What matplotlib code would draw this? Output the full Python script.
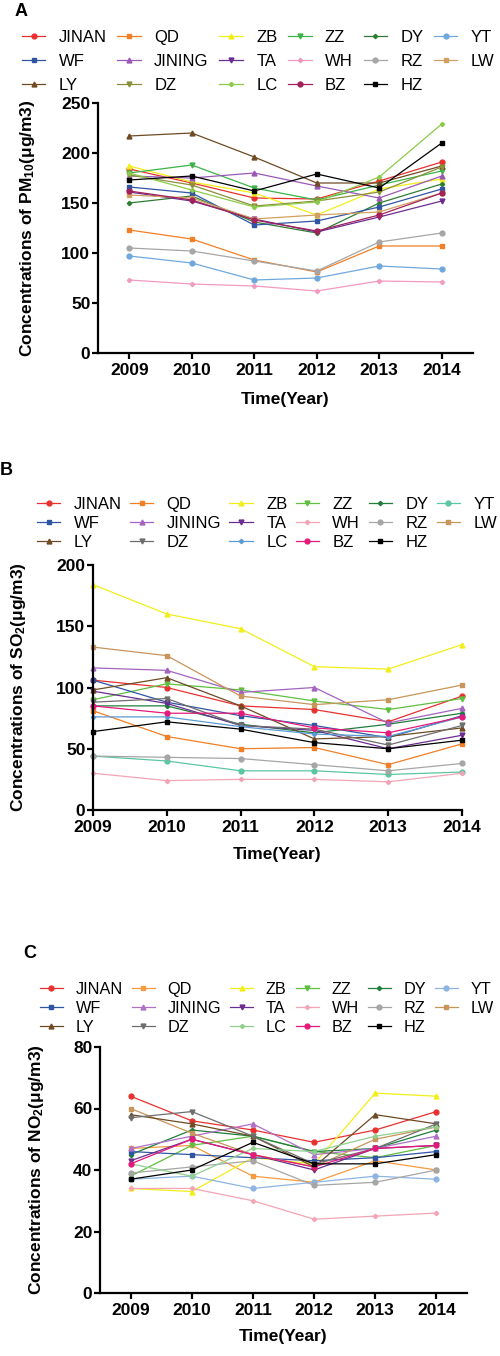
import matplotlib
matplotlib.use("Agg")
import matplotlib.pyplot as plt

plt.rcParams['font.family'] = ['Liberation Sans', 'DejaVu Sans']
plt.rcParams['mathtext.fontset'] = 'custom'
plt.rcParams['mathtext.bf'] = 'Liberation Sans:bold'
plt.rcParams['mathtext.rm'] = 'Liberation Sans:bold'
plt.rcParams['mathtext.default'] = 'bf'

# --- data ---
years = [2009, 2010, 2011, 2012, 2013, 2014]
stations = ["JINAN", "QD", "ZB", "ZZ", "DY", "YT", "WF", "JINING", "TA",
            "WH", "RZ", "LW", "LY", "DZ", "LC", "BZ", "HZ"]

# PM10
pm10_jinan = [184, 170, 155, 154, 172, 191]
pm10_qd = [123, 114, 93, 81, 107, 107]
pm10_zb = [187, 171, 160, 138, 164, 174]
pm10_zz = [180, 188, 165, 153, 168, 182]
pm10_dy = [150, 157, 131, 120, 150, 169]
pm10_yt = [97, 90, 73, 75, 87, 84]
pm10_wf = [166, 160, 128, 132, 146, 164]
pm10_jining = [177, 175, 180, 167, 155, 177]
pm10_ta = [161, 152, 134, 121, 136, 152]
pm10_wh = [73, 69, 67, 62, 72, 71]
pm10_rz = [105, 102, 92, 82, 111, 120]
pm10_lw = [158, 155, 134, 138, 141, 160]
pm10_ly = [217, 220, 196, 170, 170, 187]
pm10_dz = [178, 168, 147, 152, 161, 186]
pm10_lc = [180, 163, 146, 151, 176, 229]
pm10_bz = [162, 153, 133, 122, 138, 160]
pm10_hz = [173, 177, 162, 179, 165, 210]

# SO2
so2_jinan = [106, 100, 85, 82, 72, 93]
so2_qd = [81, 60, 50, 51, 37, 54]
so2_zb = [184, 160, 148, 117, 115, 135]
so2_zz = [90, 103, 98, 89, 82, 91]
so2_dy = [85, 85, 70, 63, 70, 79]
so2_yt = [44, 40, 32, 32, 29, 31]
so2_wf = [106, 88, 77, 69, 59, 77]
so2_jining = [116, 114, 96, 100, 71, 83]
so2_ta = [97, 87, 69, 65, 50, 61]
so2_wh = [30, 24, 25, 25, 23, 30]
so2_rz = [44, 43, 42, 37, 32, 38]
so2_lw = [133, 126, 93, 86, 90, 102]
so2_ly = [98, 108, 85, 58, 60, 67]
so2_dz = [88, 91, 69, 66, 53, 69]
so2_lc = [76, 76, 68, 62, 60, 76]
so2_bz = [85, 79, 79, 67, 63, 76]
so2_hz = [64, 72, 66, 55, 50, 57]

# NO2
no2_jinan = [64, 56, 53, 49, 53, 59]
no2_qd = [47, 48, 38, 36, 43, 40]
no2_zb = [34, 33, 44, 42, 65, 64]
no2_zz = [38, 48, 51, 46, 44, 48]
no2_dy = [45, 53, 51, 46, 47, 53]
no2_yt = [37, 38, 34, 36, 38, 37]
no2_wf = [46, 45, 44, 43, 44, 46]
no2_jining = [47, 51, 55, 45, 47, 51]
no2_ta = [43, 50, 45, 40, 47, 48]
no2_wh = [34, 34, 30, 24, 25, 26]
no2_rz = [39, 41, 43, 35, 36, 40]
no2_lw = [60, 52, 45, 41, 50, 54]
no2_ly = [58, 55, 51, 41, 58, 55]
no2_dz = [57, 59, 51, 42, 47, 55]
no2_lc = [42, 38, 47, 46, 51, 54]
no2_bz = [42, 50, 45, 41, 47, 48]
no2_hz = [37, 40, 49, 42, 42, 45]

pm10 = [pm10_jinan, pm10_qd, pm10_zb, pm10_zz, pm10_dy, pm10_yt, pm10_wf, pm10_jining,
        pm10_ta, pm10_wh, pm10_rz, pm10_lw, pm10_ly, pm10_dz, pm10_lc, pm10_bz, pm10_hz]
so2 = [so2_jinan, so2_qd, so2_zb, so2_zz, so2_dy, so2_yt, so2_wf, so2_jining,
       so2_ta, so2_wh, so2_rz, so2_lw, so2_ly, so2_dz, so2_lc, so2_bz, so2_hz]
no2 = [no2_jinan, no2_qd, no2_zb, no2_zz, no2_dy, no2_yt, no2_wf, no2_jining,
       no2_ta, no2_wh, no2_rz, no2_lw, no2_ly, no2_dz, no2_lc, no2_bz, no2_hz]

# --- styles ---
markers = ['o', 's', '^', 'v', 'D', 'o', 's', '^', 'v', 'D', 'o', 's', '^', 'v', 'D', 'o', 's']
msizes = [3.5, 3.5, 3.5, 3.5, 2.2, 3.5, 3.5, 3.5, 3.5, 2.2, 3.5, 3.5, 3.5, 3.5, 2.2, 3.5, 3.5]
colors_a = ['#E8312F', '#F07F26', '#F2EE1A', '#3CB44A', '#2E7D32', '#6FA8DC', '#2F55A4',
            '#9B59B6', '#6B2D91', '#F29AC0', '#A6A6A6', '#D1A060', '#6E4B23', '#8C8F3A',
            '#8CCB4A', '#A3215A', '#000000']
colors_b = ['#E8312F', '#F07F26', '#F2EE1A', '#5FBF3F', '#1E7E3A', '#5CC6A0', '#2F55A4',
            '#A463C0', '#6B2D91', '#F4A4B4', '#A6A6A6', '#C8955A', '#6E4B23', '#6E6E6E',
            '#5B9BD5', '#E5197A', '#000000']
colors_c = ['#E8312F', '#F59B42', '#F2EE1A', '#5FBF3F', '#1E7E3A', '#8DB4E2', '#2F55A4',
            '#B070C8', '#6B2D91', '#F4A4B4', '#A6A6A6', '#C8955A', '#6E4B23', '#6E6E6E',
            '#8FD08F', '#E5197A', '#000000']

# legend order: row-major display with 6 columns
order = [r * 6 + c for c in range(6) for r in range(3) if r * 6 + c < len(stations)]

fig = plt.figure(figsize=(5, 13.56), dpi=100)
W, H = 500.0, 1356.0


def px_axes(left, top, right, bottom):
    return fig.add_axes([left / W, 1 - bottom / H, (right - left) / W, (bottom - top) / H])


def draw_panel(ax, data, colors, ylim, yticks, xlim, ylabel, ylab_x, xlab_y):
    handles = []
    for i, name in enumerate(stations):
        h, = ax.plot(years, data[i], color=colors[i], marker=markers[i], ms=msizes[i],
                     lw=0.9, label=name, clip_on=False)
        handles.append(h)
    ax.set_xlim(*xlim)
    ax.set_ylim(*ylim)
    ax.set_yticks(yticks)
    ax.set_xticks(years)
    for s in ['top', 'right']:
        ax.spines[s].set_visible(False)
    for s in ['left', 'bottom']:
        ax.spines[s].set_linewidth(1.6)
    ax.tick_params(axis='both', width=1.6, length=4, labelsize=12.5)
    ax.tick_params(axis='y', pad=1.5)
    ax.tick_params(axis='x', pad=3)
    for t in ax.get_xticklabels() + ax.get_yticklabels():
        t.set_fontweight('bold')
    ax.set_ylabel(ylabel, fontsize=12.5, fontweight='bold')
    ax.yaxis.set_label_coords(ylab_x, 0.5)
    ax.set_xlabel("Time(Year)", fontsize=12.5, fontweight='bold')
    ax.xaxis.set_label_coords(0.5, xlab_y)
    return handles


def add_legend(handles, x, y, fs, lspace, cspace):
    fig.legend([handles[i] for i in order], [stations[i] for i in order],
               ncol=6, loc='upper left', bbox_to_anchor=(x / W, 1 - y / H),
               frameon=False, fontsize=fs, handlelength=1.4, handletextpad=0.8,
               labelspacing=lspace, columnspacing=cspace, borderpad=0, borderaxespad=0)


axA = px_axes(98, 103, 473, 353)
hA = draw_panel(axA, pm10, colors_a, (0, 250), [0, 50, 100, 150, 200, 250], (2008.5, 2014.5),
                r"Concentrations of PM$_{10}$(μg/m3)", -0.163, -0.155)
add_legend(hA, 22, 30, 12, 0.55, 0.65)

axB = px_axes(93, 565, 462, 810)
hB = draw_panel(axB, so2, colors_b, (0, 200), [0, 50, 100, 150, 200], (2009, 2014),
                r"Concentrations of SO$_{2}$(μg/m3)", -0.175, -0.15)
add_legend(hB, 37, 497, 12, 0.25, 0.5)

axC = px_axes(100, 1047, 467, 1293)
hC = draw_panel(axC, no2, colors_c, (0, 80), [0, 20, 40, 60, 80], (2008.5, 2014.5),
                r"Concentrations of NO$_{2}$(μg/m3)", -0.147, -0.145)
add_legend(hC, 40, 982, 11.7, 0.25, 0.55)

fig.text(21 / W, 1 - 11 / H, "A", fontsize=13, fontweight='bold', ha='center', va='center')
fig.text(6 / W, 1 - 471 / H, "B", fontsize=13, fontweight='bold', ha='center', va='center')
fig.text(30 / W, 1 - 953 / H, "C", fontsize=13, fontweight='bold', ha='center', va='center')

fig.savefig("out.png", dpi=100)
